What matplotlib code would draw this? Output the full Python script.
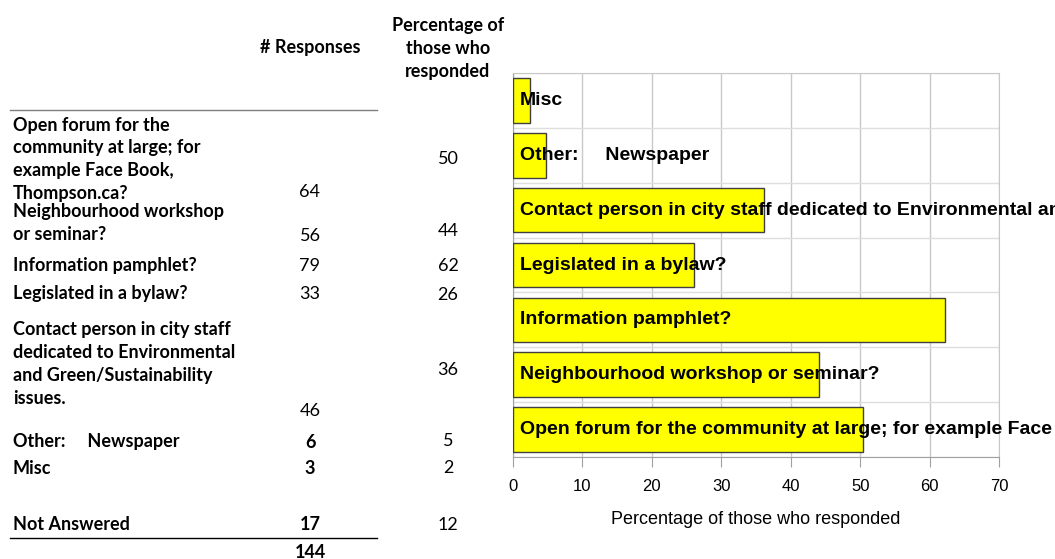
import matplotlib
matplotlib.use("Agg")
import matplotlib.pyplot as plt
from matplotlib.lines import Line2D


W, H = 1055, 559

# survey categories, in table order (bottom bar first)
categories = [
    "Open forum for the community at large; for example Face Book, Thompson.ca?",
    "Neighbourhood workshop or seminar?",
    "Information pamphlet?",
    "Legislated in a bylaw?",
    "Contact person in city staff dedicated to Environmental and Green/Sustainability issues.",
    "Other:     Newspaper",
    "Misc",
]
table_labels = [
    "Open forum for the\ncommunity at large; for\nexample Face Book,\nThompson.ca?",
    "Neighbourhood workshop\nor seminar?",
    "Information pamphlet?",
    "Legislated in a bylaw?",
    "Contact person in city staff\ndedicated to Environmental\nand Green/Sustainability\nissues.",
    "Other:     Newspaper",
    "Misc",
]
responses = [64, 56, 79, 33, 46, 6, 3]
percent = [50.4, 44.1, 62.2, 26.0, 36.2, 4.7, 2.4]
not_answered = 17
not_answered_pct = 11.8
total = 144

TABLE_FONT = "Lato"
CHART_FONT = "Liberation Sans"


def px(x, y):
    """pixel position from the top-left corner -> figure fraction"""
    return x / W, 1 - y / H


fig = plt.figure(figsize=(W / 100, H / 100), dpi=100)

# ---- table on the left ----
def cell(x, y, s, bold=False, ha="left", size=13):
    fig.text(*px(x, y), s, ha=ha, va="center", fontsize=size,
             fontweight="bold" if bold else "normal", family=TABLE_FONT)

cell(310, 48, "# Responses", bold=True, ha="center")
for i, line in enumerate(["Percentage of", "those who", "responded"]):
    cell(448, 25 + 23.5 * i, line, bold=True, ha="center")

fig.add_artist(Line2D([10 / W, 377 / W], [1 - 110 / H] * 2, color="#7f7f7f", lw=1))

label_y = [125, 212, 266, 294, 330, 442, 469]
resp_y = [192, 236, 266, 294, 411, 442, 469]
pct_y = [159, 231, 266, 295, 370, 441, 468]
step = 22.8
for i, lab in enumerate(table_labels):
    for j, line in enumerate(lab.split("\n")):
        cell(13, label_y[i] + step * j, line, bold=True)
    cell(310, resp_y[i], str(responses[i]), bold=i >= 5, ha="center")
    cell(448, pct_y[i], f"{percent[i]:.0f}", ha="center")

cell(13, 524, "Not Answered", bold=True)
cell(310, 524, str(not_answered), bold=True, ha="center")
cell(448, 525, f"{not_answered_pct:.0f}", ha="center")
fig.add_artist(Line2D([10 / W, 377 / W], [1 - 538 / H] * 2, color="#000000", lw=1))
cell(310, 552, str(total), bold=True, ha="center")

# ---- bar chart on the right ----
x0, y0 = px(513, 457)
x1, y1 = px(999, 73)
ax = fig.add_axes([x0, y0, x1 - x0, y1 - y0])

ypos = range(len(categories))
ax.barh(ypos, percent, height=0.81, color="#FFFF00", edgecolor="#404040",
        linewidth=1, zorder=3)
for i, name in enumerate(categories):
    ax.text(0.95, i, name, ha="left", va="center", fontsize=14,
            fontweight="bold", family=CHART_FONT, clip_on=False, zorder=4)

ax.set_xlim(0, 70)
ax.set_ylim(-0.5, len(categories) - 0.5)
ax.set_xticks(range(0, 71, 10))
ax.set_yticks([])
ax.set_yticks([i - 0.5 for i in range(len(categories) + 1)], minor=True)
ax.grid(axis="x", color="#c8c8c8", lw=1, zorder=0)
ax.grid(axis="y", which="minor", color="#dedede", lw=1, zorder=0)
ax.tick_params(axis="y", which="both", length=0)
ax.tick_params(axis="x", length=7, color="#a0a0a0", labelsize=12, pad=9)
for lab in ax.get_xticklabels():
    lab.set_family(CHART_FONT)
for side in ["top", "right"]:
    ax.spines[side].set_color("#c8c8c8")
for side in ["left", "bottom"]:
    ax.spines[side].set_color("#a0a0a0")
ax.set_xlabel("Percentage of those who responded", fontsize=13,
              family=CHART_FONT, labelpad=12)

fig.savefig("out.png", dpi=100)
